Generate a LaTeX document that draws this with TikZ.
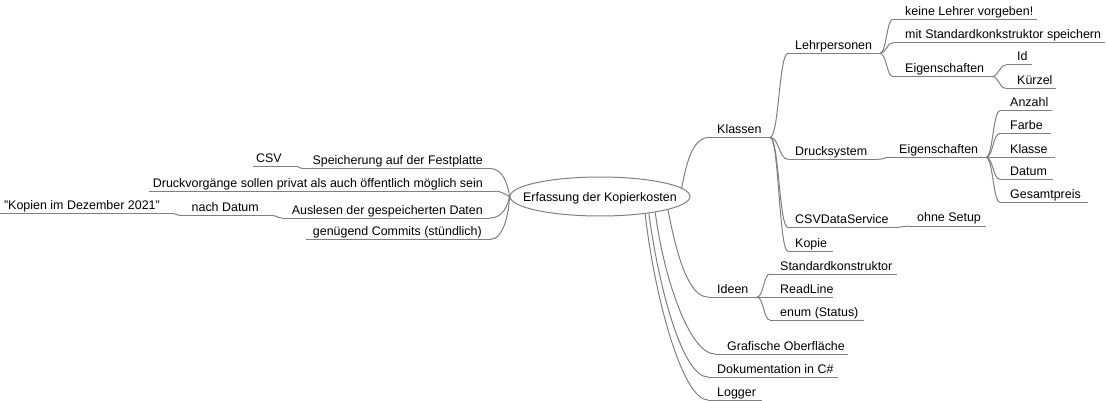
\documentclass[tikz,border=0pt]{standalone}
\usepackage{fontspec}
\setmainfont{Liberation Sans}
\usetikzlibrary{shapes.geometric,calc}
\definecolor{mmgray}{RGB}{128,128,128}
\tikzset{
  mmline/.style={draw=mmgray, line width=1pt},
  mmtext/.style={inner sep=0pt, font=\fontsize{12.45}{14}\selectfont, text=black},
  rootshape/.style={ellipse, draw=mmgray, line width=1pt, fill=white, minimum width=180pt, minimum height=39pt, inner sep=0pt}
}
% right node: name, Lx, Rx, y, text x, text
\newcommand{\mmR}[6]{%
  \coordinate (#1L) at (#2,#4);
  \coordinate (#1R) at (#3,#4);
  \node[mmtext, anchor=base west] (#1) at (#5,#4-4) {#6};
  \draw[mmline] (#1L) -- (#1R);
}
% left node: name, Lx, Rx, y, text right x, text
\newcommand{\mmL}[6]{%
  \coordinate (#1L) at (#2,#4);
  \coordinate (#1R) at (#3,#4);
  \node[mmtext, anchor=base east] (#1) at (#5,#4-4) {#6};
  \draw[mmline] (#1L) -- (#1R);
}
\newcommand{\sedge}[2]{%
  \draw[mmline] let \p1=(#1), \p2=(#2) in
    (\p1) .. controls ({0.5*\x1+0.5*\x2},\y1) and ({0.5*\x1+0.5*\x2},\y2) .. (\p2);
}
\begin{document}
\begin{tikzpicture}[x=1pt,y=-1pt]
\useasboundingbox (0,0) rectangle (1106,401);

% right side
\mmR{klassen}{710}{770}{137.3}{717}{Klassen}
\mmR{lehr}{788}{880}{53.3}{795}{Lehrpersonen}
\mmR{keine}{893}{1037}{19.3}{905}{keine Lehrer vorgeben!}
\mmR{mit}{893}{1105}{42.7}{905}{mit Standardkonkstruktor speichern}
\mmR{eigA}{893}{992}{76.5}{905}{Eigenschaften}
\mmR{id}{1006}{1032}{65}{1017}{Id}
\mmR{kuerzel}{1006}{1056}{88.3}{1017}{Kürzel}
\mmR{druck}{788}{878}{159.3}{795}{Drucksystem}
\mmR{eigB}{890}{986}{157.3}{899}{Eigenschaften}
\mmR{anzahl}{1000}{1052}{110.7}{1010}{Anzahl}
\mmR{farbe}{1000}{1051}{133.3}{1010}{Farbe}
\mmR{klasse}{1000}{1055}{157.3}{1010}{Klasse}
\mmR{datum}{1000}{1053}{179.3}{1010}{Datum}
\mmR{gesamt}{1000}{1088}{202.3}{1010}{Gesamtpreis}
\mmR{csvds}{788}{895}{227.7}{795}{CSVDataService}
\mmR{setup}{908}{986}{226}{917}{ohne Setup}
\mmR{kopie}{788}{833}{251.5}{795}{Kopie}
\mmR{ideen}{708}{757}{297}{717}{Ideen}
\mmR{stdk}{770}{897}{274}{780}{Standardkonstruktor}
\mmR{readline}{770}{833}{297}{780}{ReadLine}
\mmR{enum}{770}{864}{320}{780}{enum (Status)}
\mmR{grafik}{715}{848}{354}{727}{Grafische Oberfläche}
\mmR{doku}{708}{838}{377}{717}{Dokumentation in C\#}
\mmR{logger}{708}{762}{400}{717}{Logger}

% left side
\mmL{speich}{302}{490}{168.5}{483}{Speicherung auf der Festplatte}
\mmL{csv}{253}{297}{166.5}{282}{CSV}
\mmL{druckv}{149}{495}{191}{483}{Druckvorgänge sollen privat als auch öffentlich möglich sein}
\mmL{ausl}{282}{490}{218}{483}{Auslesen der gespeicherten Daten}
\mmL{nach}{180}{272}{215.5}{259}{nach Datum}
\mmL{kopien}{0}{173}{213.5}{160}{"Kopien im Dezember 2021"}
\mmL{commits}{306}{490}{239.5}{482}{genügend Commits (stündlich)}

% child connectors
\sedge{klassenR}{lehrL}
\sedge{klassenR}{druckL}
\sedge{klassenR}{csvdsL}
\sedge{klassenR}{kopieL}
\sedge{lehrR}{keineL}
\sedge{lehrR}{mitL}
\sedge{lehrR}{eigAL}
\sedge{eigAR}{idL}
\sedge{eigAR}{kuerzelL}
\sedge{druckR}{eigBL}
\sedge{eigBR}{anzahlL}
\sedge{eigBR}{farbeL}
\sedge{eigBR}{klasseL}
\sedge{eigBR}{datumL}
\sedge{eigBR}{gesamtL}
\sedge{csvdsR}{setupL}
\sedge{ideenR}{stdkL}
\sedge{ideenR}{readlineL}
\sedge{ideenR}{enumL}
\sedge{speichL}{csvR}
\sedge{auslL}{nachR}
\sedge{nachL}{kopienR}

% root
\node[rootshape] (root) at (600,196.5) {};
\node[mmtext, anchor=base] (rootlabel) at (600,201.5) {Erfassung der Kopierkosten};

% root connectors
\draw[mmline] (root.6) .. controls (687,160) and (693,137.3) .. (klassenL);
\draw[mmline] (root.-11) .. controls (678,262) and (690,297) .. (ideenL);
\draw[mmline] (root.-16.6) .. controls (664,280) and (690,354) .. (grafikL);
\draw[mmline] (root.-19) .. controls (659,290) and (683,377) .. (dokuL);
\draw[mmline] (root.-21.1) .. controls (655,300) and (683,400) .. (loggerL);
\draw[mmline] (root.west) .. controls (508,185) and (503,168.5) .. (speichR);
\draw[mmline] (root.west) .. controls (506,195) and (501,191) .. (druckvR);
\draw[mmline] (root.west) .. controls (508,205) and (503,218) .. (auslR);
\draw[mmline] (root.west) .. controls (509,212) and (504,239.5) .. (commitsR);
\end{tikzpicture}
\end{document}
